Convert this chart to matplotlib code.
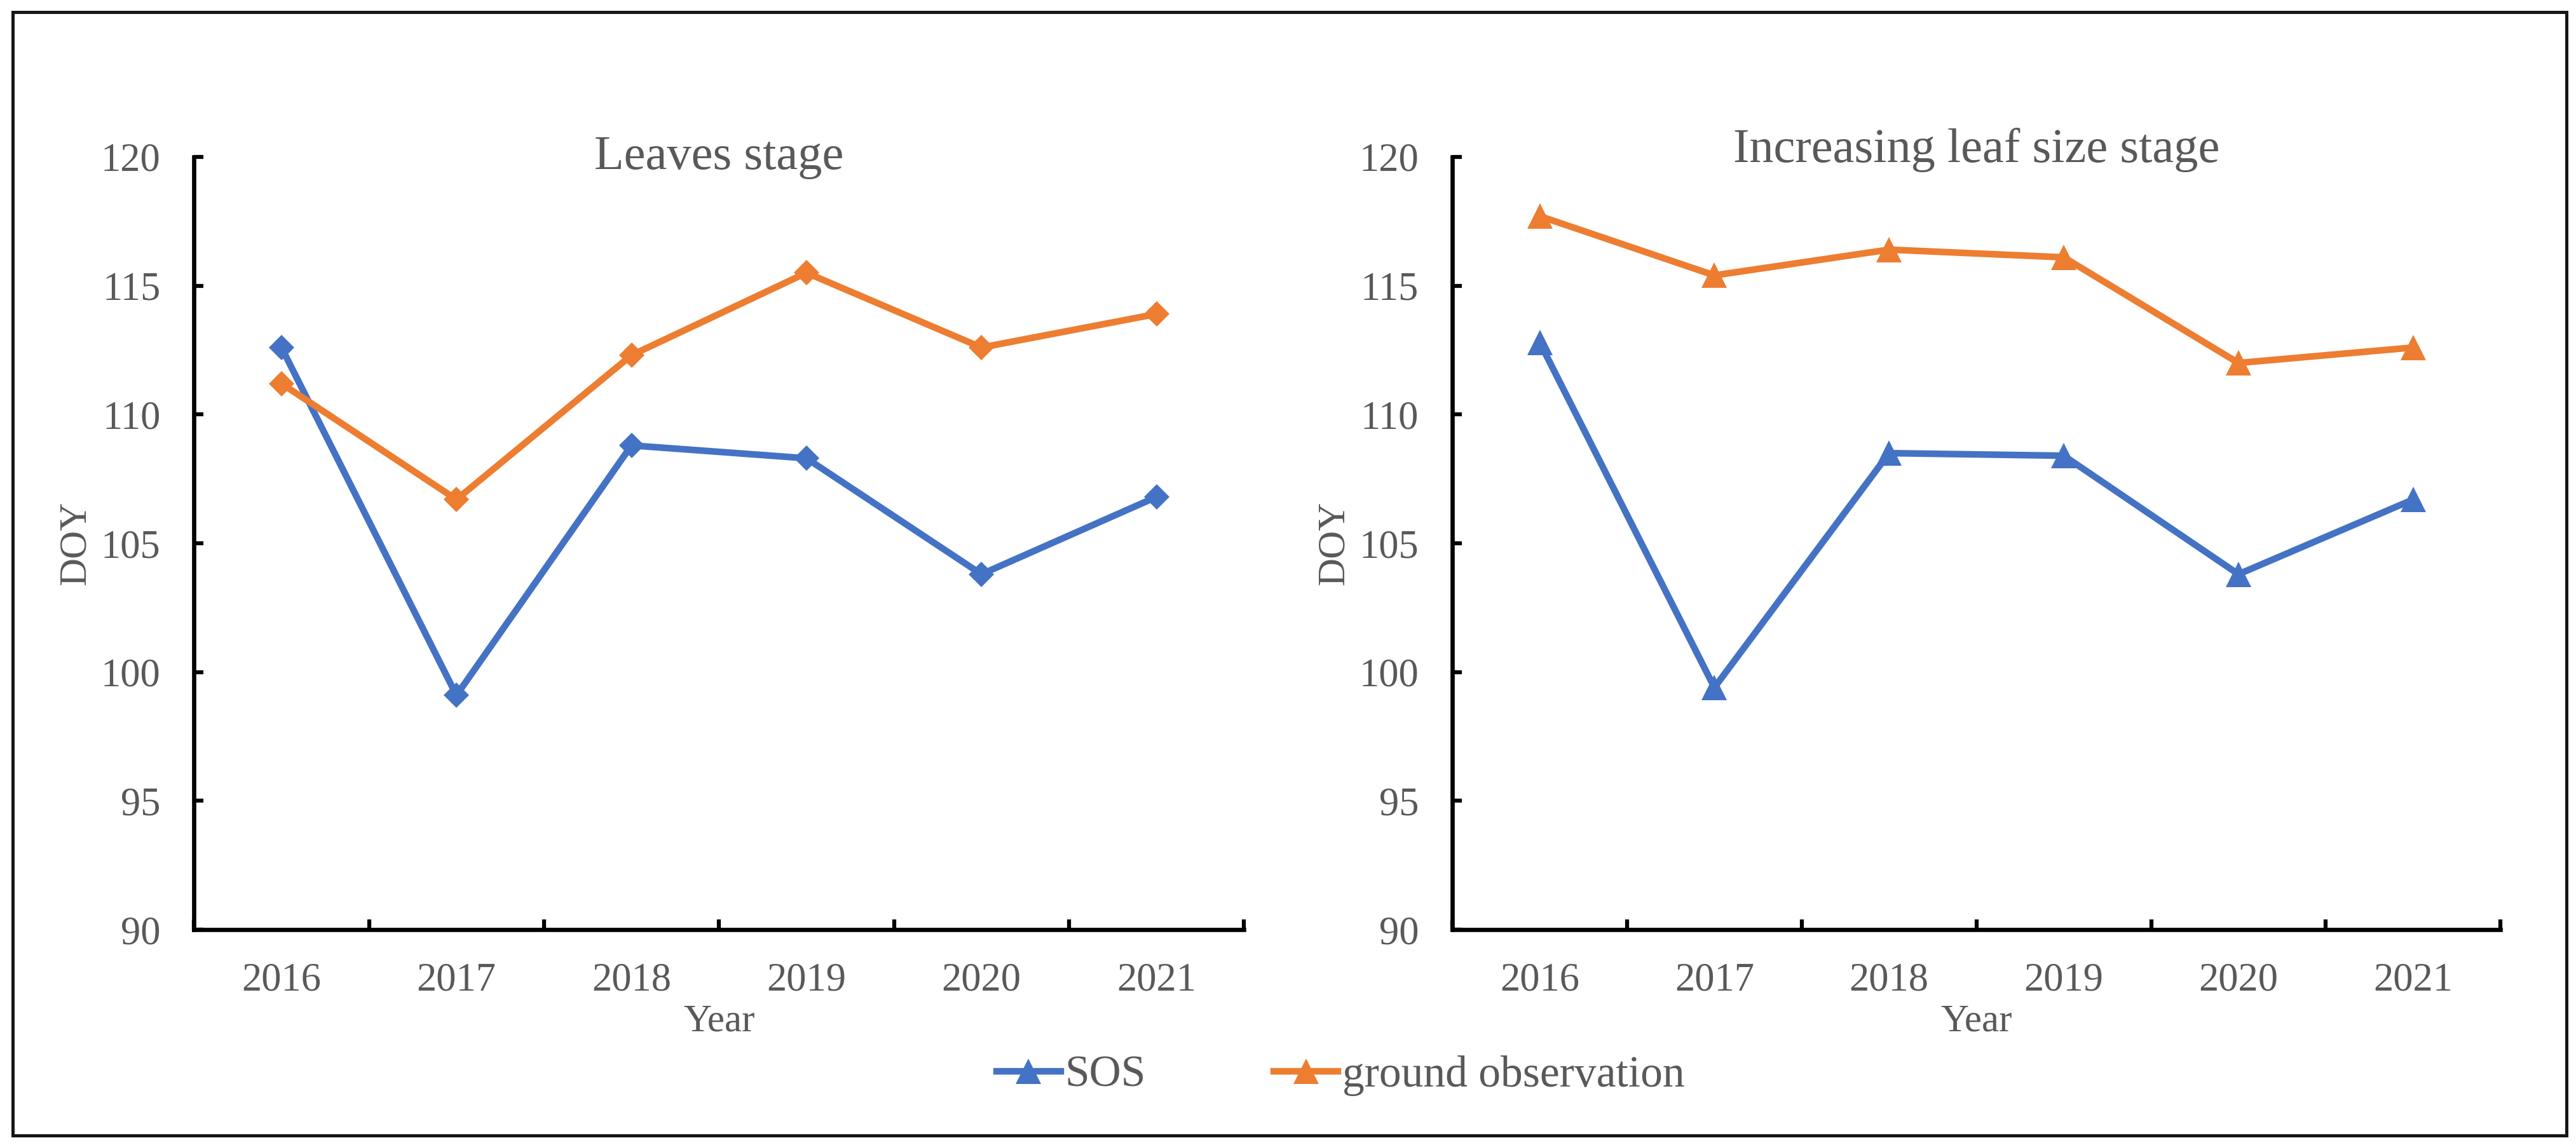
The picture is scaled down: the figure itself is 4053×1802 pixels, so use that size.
import matplotlib
matplotlib.use("Agg")
import matplotlib.pyplot as plt
from matplotlib.patches import Rectangle

plt.rcParams['font.family'] = ['Liberation Serif', 'DejaVu Serif']

# data
years = ['2016', '2017', '2018', '2019', '2020', '2021']
sos_leaves = [112.6, 99.1, 108.8, 108.3, 103.8, 106.8]
ground_leaves = [111.2, 106.7, 112.3, 115.5, 112.6, 113.9]
sos_increasing = [112.8, 99.4, 108.5, 108.4, 103.8, 106.7]
ground_increasing = [117.7, 115.4, 116.4, 116.1, 112.0, 112.6]

azul = '#4472C4'
naranja = '#ED7D31'
gris = '#595959'

fig = plt.figure(figsize=(40.53, 18.02), dpi=100)

ax1 = fig.add_axes([0.0753, 0.188, 0.4076, 0.675])
ax2 = fig.add_axes([0.5638, 0.188, 0.4069, 0.675])

x = list(range(len(years)))

ax1.plot(x, sos_leaves, color=azul, lw=7.5, marker='D', ms=20, mew=0, label='SOS')
ax1.plot(x, ground_leaves, color=naranja, lw=7.5, marker='D', ms=20, mew=0, label='ground observation')

l1, = ax2.plot(x, sos_increasing, color=azul, lw=7.5, marker='^', ms=29, mew=0, label='SOS')
l2, = ax2.plot(x, ground_increasing, color=naranja, lw=7.5, marker='^', ms=29, mew=0, label='ground observation')

titulos = ['Leaves stage', 'Increasing leaf size stage']
for ax, titulo, ty in zip([ax1, ax2], titulos, [0.984, 0.993]):
    ax.set_xlim(-0.5, 5.5)
    ax.set_ylim(90, 120)
    ax.set_yticks(range(90, 121, 5))
    ax.set_xticks(x)
    ax.set_xticklabels(years)
    ax.set_xticks([i + 0.5 for i in range(-1, 6)], minor=True)
    ax.tick_params(axis='x', which='major', length=0, pad=37, labelsize=45, labelcolor=gris)
    ax.tick_params(axis='x', which='minor', length=11.5, width=4.5, direction='in')
    ax.tick_params(axis='y', which='major', length=11, width=4.5, direction='in', pad=38,
                   labelsize=45, labelcolor=gris)
    for s in ['top', 'right']:
        ax.spines[s].set_visible(False)
    for s in ['left', 'bottom']:
        ax.spines[s].set_linewidth(4.8)
        ax.spines[s].set_color('black')
        ax.spines[s].set_capstyle('projecting')
    ax.set_xlabel('Year', fontsize=44, color=gris)
    ax.xaxis.set_label_coords(0.5, -0.119)
    ax.xaxis.label.set_va('center')
    ax.set_ylabel('DOY', fontsize=44, color=gris)
    ax.yaxis.set_label_coords(-0.113, 0.5)
    ax.yaxis.label.set_va('center')
    ax.text(0.5, ty, titulo, transform=ax.transAxes, ha='center', va='baseline',
            fontsize=55, color=gris)

fig.legend(handles=[l1, l2], loc='center', bbox_to_anchor=(0.5204, 0.0605), ncol=2,
           frameon=False, fontsize=50, handlelength=1.45, handletextpad=0.1,
           columnspacing=2.9, borderpad=0, labelcolor=gris)

# marco exterior
fig.patches.append(Rectangle((0.00493, 0.00832), 0.99137, 0.98086, transform=fig.transFigure,
                             fill=False, edgecolor='#161616', lw=3.6))

plt.savefig('out.png', dpi=100)
plt.close()
